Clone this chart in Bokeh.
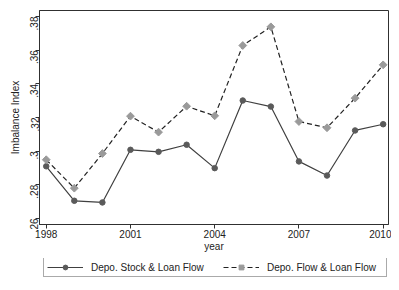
import math
from bokeh.plotting import figure
from bokeh.layouts import column
from bokeh.models import ColumnDataSource, FixedTicker, Range1d, Legend, LegendItem
from bokeh.embed import file_html
from bokeh.resources import INLINE

years = [1998, 1999, 2000, 2001, 2002, 2003, 2004, 2005, 2006, 2007, 2008, 2009, 2010]
stock_loan = [0.291, 0.2705, 0.2695, 0.3008, 0.2996, 0.3038, 0.2899, 0.3301, 0.3265, 0.2939, 0.2855, 0.3123, 0.316]
flow_loan = [0.2949, 0.278, 0.2986, 0.3208, 0.3113, 0.3267, 0.321, 0.3628, 0.3739, 0.3176, 0.3139, 0.3315, 0.3513]
x_ticks = [1998, 2001, 2004, 2007, 2010]
y_ticks = [0.26, 0.28, 0.3, 0.32, 0.34, 0.36, 0.38]
y_tick_labels = [".26", ".28", ".3", ".32", ".34", ".36", ".38"]
series_names = ["Depo. Stock & Loan Flow", "Depo. Flow & Loan Flow"]

src = ColumnDataSource(dict(x=years, s=stock_loan, f=flow_loan))

FONT = "Liberation Sans"
STOCK_LINE = dict(line_color="#404040", line_width=1.2)
STOCK_MARK = dict(marker="circle", size=5.5, fill_color="#5a5a5a", line_color="#5a5a5a")
FLOW_LINE = dict(line_color="#222222", line_width=1.2, line_dash="5 3")
FLOW_MARK = dict(marker="square", angle=math.pi / 4, size=5.5, fill_color="#9a9a9a", line_color="#9a9a9a")

W = 391
p = figure(width=W, height=258, output_backend="svg", toolbar_location=None,
           x_range=Range1d(1997.76, 2010.19), y_range=Range1d(0.2564, 0.3836),
           min_border_left=39, min_border_top=10, min_border_right=3, min_border_bottom=34)
p.background_fill_color = "white"
p.border_fill_color = "white"
p.outline_line_color = "#303030"
p.outline_line_width = 1
p.xgrid.visible = False
p.ygrid.visible = False

p.line("x", "s", source=src, **STOCK_LINE)
p.scatter("x", "s", source=src, **STOCK_MARK)
p.line("x", "f", source=src, **FLOW_LINE)
p.scatter("x", "f", source=src, **FLOW_MARK)

for ax in (p.xaxis[0], p.yaxis[0]):
    ax.axis_line_color = "#303030"
    ax.major_tick_line_color = "#303030"
    ax.minor_tick_line_color = None
    ax.major_tick_in = 0
    ax.major_tick_out = 4
    ax.major_label_text_font = FONT
    ax.major_label_text_font_size = "10px"
    ax.major_label_text_color = "#222222"
    ax.axis_label_text_font = FONT
    ax.axis_label_text_font_size = "10px"
    ax.axis_label_text_font_style = "normal"
    ax.axis_label_text_color = "#222222"

p.xaxis.ticker = FixedTicker(ticks=x_ticks)
p.xaxis.axis_label = "year"
p.xaxis.axis_label_standoff = 0
p.xaxis.major_label_standoff = 1

p.yaxis.ticker = FixedTicker(ticks=y_ticks)
p.yaxis.major_label_overrides = {t: l for t, l in zip(y_ticks, y_tick_labels)}
p.yaxis.major_label_orientation = math.pi / 2
p.yaxis.axis_label = "Imbalance Index"
p.yaxis.axis_label_standoff = 3
p.yaxis.major_label_standoff = 1

# legend strip below the chart (same series, ranges chosen so no data shows)
lg = figure(width=W, height=24, output_backend="svg", toolbar_location=None,
            x_range=Range1d(0, 1), y_range=Range1d(0, 1),
            min_border_left=39, min_border_top=0, min_border_right=3, min_border_bottom=0)
lg.axis.visible = False
lg.grid.visible = False
lg.outline_line_color = None
lg.background_fill_color = "white"
lg.border_fill_color = "white"
e1 = lg.line("x", "s", source=src, **STOCK_LINE)
e1m = lg.scatter("x", "s", source=src, **STOCK_MARK)
e2 = lg.line("x", "f", source=src, **FLOW_LINE)
e2m = lg.scatter("x", "f", source=src, **FLOW_MARK)

legend = Legend(items=[LegendItem(label=series_names[0], renderers=[e1, e1m]),
                       LegendItem(label=series_names[1], renderers=[e2, e2m])],
                orientation="horizontal", location=(4, 5),
                label_text_font=FONT, label_text_font_size="10px", label_text_color="#222222",
                border_line_color="#555555", border_line_width=1,
                background_fill_color="white", background_fill_alpha=1,
                glyph_width=36, glyph_height=12, label_height=12, label_width=116,
                label_standoff=8, spacing=16, padding=3, margin=0)
lg.add_layout(legend, "center")

layout = column(p, lg, spacing=0)
open("out.html", "w").write(file_html(layout, INLINE))
